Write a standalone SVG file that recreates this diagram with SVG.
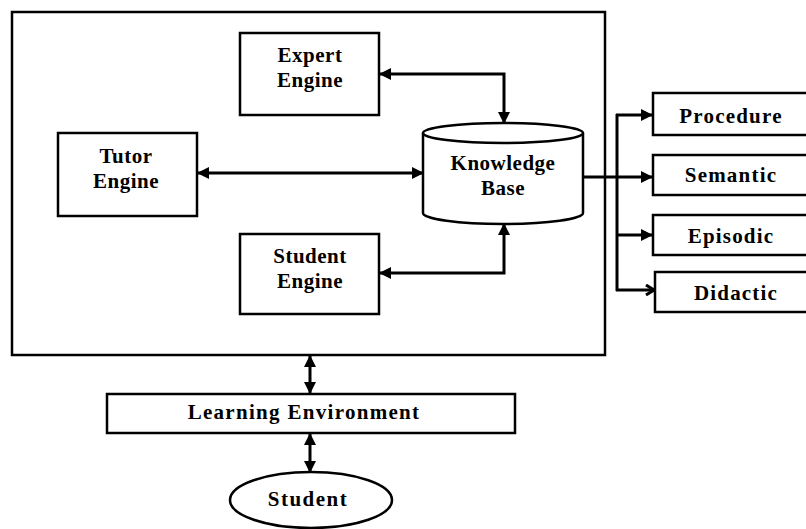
<svg xmlns="http://www.w3.org/2000/svg" width="806" height="529" viewBox="0 0 806 529">
<defs>
<style>
.box{fill:#fff;stroke:#000;stroke-width:2.5}
.t{font-family:"Liberation Serif","Times New Roman",serif;font-size:21px;font-weight:bold;fill:#000;text-anchor:middle;letter-spacing:0.5px}
.r{letter-spacing:1.2px}
.c{fill:none;stroke:#000;stroke-width:3}
</style>
<marker id="ah" viewBox="0 0 12 12" refX="11" refY="6" markerWidth="12" markerHeight="12" markerUnits="userSpaceOnUse" orient="auto-start-reverse">
<path d="M0,0 L12,6 L0,12 z" fill="#000"/>
</marker>
<marker id="oh" viewBox="0 0 12 12" refX="11" refY="6" markerWidth="12" markerHeight="12" markerUnits="userSpaceOnUse" orient="auto">
<path d="M3,1 L11,6 L3,11" fill="none" stroke="#000" stroke-width="3"/>
</marker>
</defs>
<rect width="806" height="529" fill="#fff"/>
<g id="its-frame"><rect class="box" x="12" y="12" width="593" height="343"/></g>
<g id="expert-engine"><rect class="box" x="240" y="33" width="139" height="82"/><text class="t" x="310" y="62">Expert</text><text class="t" x="310" y="87">Engine</text></g>
<g id="tutor-engine"><rect class="box" x="58" y="133" width="139" height="83"/><text class="t" x="126" y="163">Tutor</text><text class="t" x="126" y="188">Engine</text></g>
<g id="student-engine"><rect class="box" x="240" y="234" width="139" height="80"/><text class="t" x="310" y="263">Student</text><text class="t" x="310" y="288">Engine</text></g>
<g id="knowledge-base">
<path class="box" d="M423,133 L423,213 A80,11 0 0 0 583,213 L583,133"/>
<ellipse class="box" cx="503" cy="133" rx="80" ry="10"/>
<text class="t" x="503" y="170">Knowledge</text><text class="t" x="503" y="195">Base</text></g>
<g id="procedure"><rect class="box" x="653" y="93" width="160" height="42"/><text class="t r" x="731" y="123">Procedure</text></g>
<g id="semantic"><rect class="box" x="653" y="155" width="160" height="40"/><text class="t r" x="731" y="182">Semantic</text></g>
<g id="episodic"><rect class="box" x="653" y="215" width="160" height="40"/><text class="t r" x="731" y="243">Episodic</text></g>
<g id="didactic"><rect class="box" x="655" y="272" width="160" height="40"/><text class="t r" x="736" y="300">Didactic</text></g>
<g id="learning-environment"><rect class="box" x="107" y="394" width="408" height="39"/><text class="t" x="304" y="419" style="letter-spacing:1.3px">Learning Environment</text></g>
<g id="student"><ellipse class="box" cx="311" cy="500" rx="81" ry="28"/><text class="t" x="308" y="506" style="letter-spacing:1.5px">Student</text></g>
<g id="connectors">
<path class="c" d="M380,74 H504 V123" marker-start="url(#ah)" marker-end="url(#ah)"/>
<path class="c" d="M198,173 H423" marker-start="url(#ah)" marker-end="url(#ah)"/>
<path class="c" d="M380,273 H504 V224" marker-start="url(#ah)" marker-end="url(#ah)"/>
<path class="c" d="M583,177 H617"/>
<path class="c" d="M617,114 V291"/>
<path class="c" d="M616,115 H652" marker-end="url(#ah)"/>
<path class="c" d="M617,177 H652" marker-end="url(#ah)"/>
<path class="c" d="M616,235 H652" marker-end="url(#ah)"/>
<path class="c" d="M616,290 H654" marker-end="url(#oh)"/>
<path class="c" d="M310,356 V393" marker-start="url(#ah)" marker-end="url(#ah)"/>
<path class="c" d="M310,434 V472" marker-start="url(#ah)" marker-end="url(#ah)"/>
</g>
</svg>
